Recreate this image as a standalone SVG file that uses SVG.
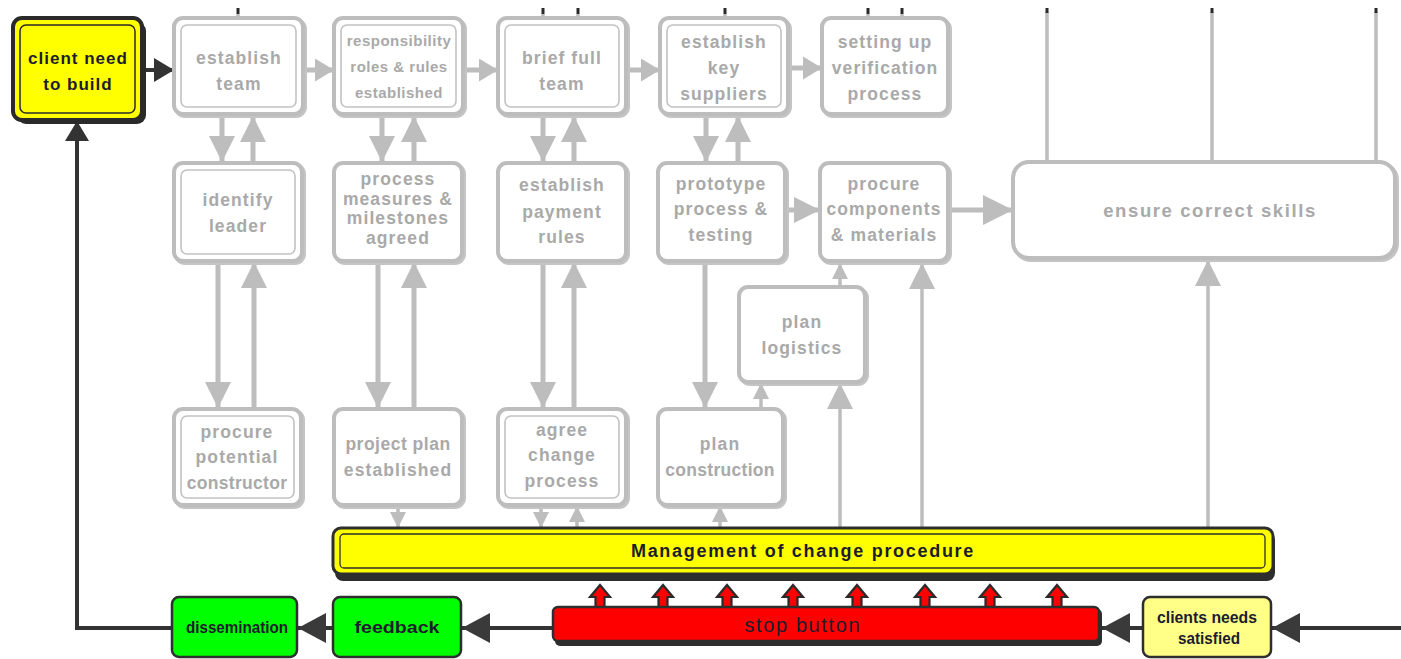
<svg xmlns="http://www.w3.org/2000/svg" width="1401" height="659" viewBox="0 0 1401 659">
  <style>
    .gbox { fill: #ffffff; stroke: #bdbdbd; stroke-width: 4; }
    .gshadow { fill: none; stroke: #c4c4c4; stroke-width: 4; }
    .ginner { fill: none; stroke: #c2c2c2; stroke-width: 1.6; }
    .gtxt { font-family: "Liberation Sans", Arial, sans-serif; font-weight: bold; font-size: 17.5px; fill: #a9a9a9; text-anchor: middle; letter-spacing: 1.1px; }
    .gtxt-s { font-size: 15px; letter-spacing: 0.5px; }
    .dtxt { font-family: "Liberation Sans", Arial, sans-serif; font-weight: bold; font-size: 17px; fill: #1c1c2e; text-anchor: middle; letter-spacing: 1px; }
    .ntxt { font-family: "Liberation Sans", Arial, sans-serif; font-weight: bold; font-size: 17px; fill: #1c1c2e; text-anchor: middle; }
    .gline { stroke: #bdbdbd; stroke-width: 5; fill: none; }
    .gline-t { stroke: #bdbdbd; stroke-width: 3.5; fill: none; }
    .dline { stroke: #333333; stroke-width: 4; fill: none; }
    .stub { stroke: #2a2a2a; stroke-width: 3; }
  </style>
  <defs>
    <marker id="gh" markerUnits="userSpaceOnUse" markerWidth="26" markerHeight="26" viewBox="0 0 26 26" refX="26" refY="13" orient="auto">
      <path d="M0,0 L26,13 L0,26 z" fill="#bdbdbd"/>
    </marker>
    <marker id="ghm" markerUnits="userSpaceOnUse" markerWidth="19" markerHeight="23" viewBox="0 0 19 23" refX="19" refY="11.5" orient="auto">
      <path d="M0,0 L19,11.5 L0,23 z" fill="#bdbdbd"/>
    </marker>
    <marker id="ghs" markerUnits="userSpaceOnUse" markerWidth="16" markerHeight="16" viewBox="0 0 16 16" refX="16" refY="8" orient="auto">
      <path d="M0,0 L16,8 L0,16 z" fill="#bdbdbd"/>
    </marker>
    <marker id="ghl" markerUnits="userSpaceOnUse" markerWidth="30" markerHeight="30" viewBox="0 0 30 30" refX="30" refY="15" orient="auto">
      <path d="M0,0 L30,15 L0,30 z" fill="#bdbdbd"/>
    </marker>
    <marker id="dh" markerUnits="userSpaceOnUse" markerWidth="28" markerHeight="30" viewBox="0 0 28 30" refX="28" refY="15" orient="auto">
      <path d="M0,0 L28,15 L0,30 z" fill="#3a3a3a"/>
    </marker>
    <marker id="dhs" markerUnits="userSpaceOnUse" markerWidth="20" markerHeight="24" viewBox="0 0 20 24" refX="20" refY="12" orient="auto">
      <path d="M0,0 L20,12 L0,24 z" fill="#333333"/>
    </marker>
    <!-- small red arrow pointing up, drawn around its tip at (0,0) -->
    <path id="redup" d="M0,0 L10,12 L4.5,12 L4.5,22 L-4.5,22 L-4.5,12 L-10,12 z" fill="#ff0000" stroke="#2a2a2a" stroke-width="2.2" stroke-linejoin="miter"/>
  </defs>

  <rect x="0" y="0" width="1401" height="659" fill="#ffffff"/>

  <!-- connectors -->
  <g id="connectors">
    <!-- stubs entering from above -->
    <line class="gline-t" x1="238" y1="14" x2="238" y2="18"/>
    <line class="stub" x1="238" y1="8" x2="238" y2="14"/>
    <line class="gline-t" x1="543" y1="14" x2="543" y2="18"/>
    <line class="stub" x1="543" y1="8" x2="543" y2="14"/>
    <line class="gline-t" x1="578" y1="14" x2="578" y2="18"/>
    <line class="stub" x1="578" y1="8" x2="578" y2="14"/>
    <line class="gline-t" x1="725" y1="14" x2="725" y2="18"/>
    <line class="stub" x1="725" y1="8" x2="725" y2="14"/>
    <line class="gline-t" x1="868" y1="14" x2="868" y2="18"/>
    <line class="stub" x1="868" y1="8" x2="868" y2="14"/>
    <line class="gline-t" x1="902" y1="14" x2="902" y2="18"/>
    <line class="stub" x1="902" y1="8" x2="902" y2="14"/>
    <!-- long lines into ensure correct skills -->
    <line class="gline-t" x1="1047" y1="12" x2="1047" y2="162"/>
    <line class="stub" x1="1047" y1="8" x2="1047" y2="13"/>
    <line class="gline-t" x1="1212" y1="12" x2="1212" y2="162"/>
    <line class="stub" x1="1212" y1="8" x2="1212" y2="13"/>
    <line class="gline-t" x1="1376" y1="12" x2="1376" y2="162"/>
    <line class="stub" x1="1376" y1="8" x2="1376" y2="13"/>

    <!-- top row, left to right -->
    <line class="dline" x1="142" y1="70" x2="174" y2="70" marker-end="url(#dhs)"/>
    <line class="gline" x1="305" y1="70" x2="334" y2="70" marker-end="url(#ghm)"/>
    <line class="gline" x1="465" y1="70" x2="498" y2="70" marker-end="url(#ghm)"/>
    <line class="gline" x1="628" y1="70" x2="660" y2="70" marker-end="url(#ghm)"/>
    <line class="gline" x1="790" y1="68" x2="822" y2="68" marker-end="url(#ghm)"/>

    <!-- row 1 to row 2 pairs -->
    <line class="gline" x1="222" y1="116" x2="222" y2="162" marker-end="url(#gh)"/>
    <line class="gline" x1="253" y1="162" x2="253" y2="116" marker-end="url(#gh)"/>
    <line class="gline" x1="382" y1="116" x2="382" y2="162" marker-end="url(#gh)"/>
    <line class="gline" x1="414" y1="162" x2="414" y2="116" marker-end="url(#gh)"/>
    <line class="gline" x1="543" y1="116" x2="543" y2="162" marker-end="url(#gh)"/>
    <line class="gline" x1="574" y1="162" x2="574" y2="116" marker-end="url(#gh)"/>
    <line class="gline" x1="706" y1="116" x2="706" y2="162" marker-end="url(#gh)"/>
    <line class="gline" x1="738" y1="162" x2="738" y2="116" marker-end="url(#gh)"/>

    <!-- row 2 to row 3 pairs -->
    <line class="gline" x1="218" y1="262" x2="218" y2="408" marker-end="url(#gh)"/>
    <line class="gline" x1="254" y1="408" x2="254" y2="262" marker-end="url(#gh)"/>
    <line class="gline" x1="378" y1="262" x2="378" y2="408" marker-end="url(#gh)"/>
    <line class="gline" x1="414" y1="408" x2="414" y2="262" marker-end="url(#gh)"/>
    <line class="gline" x1="543" y1="262" x2="543" y2="408" marker-end="url(#gh)"/>
    <line class="gline" x1="574" y1="408" x2="574" y2="262" marker-end="url(#gh)"/>
    <line class="gline" x1="705" y1="262" x2="705" y2="408" marker-end="url(#gh)"/>

    <!-- middle row horizontals -->
    <line class="gline" x1="786" y1="210" x2="820" y2="210" marker-end="url(#gh)"/>
    <line class="gline" x1="949" y1="210" x2="1013" y2="210" marker-end="url(#ghl)"/>

    <!-- plan construction / plan logistics / procure components -->
    <line class="gline-t" x1="761" y1="409" x2="761" y2="383" marker-end="url(#ghs)"/>
    <line class="gline-t" x1="840" y1="287" x2="840" y2="263" marker-end="url(#ghs)"/>
    <line class="gline-t" x1="840" y1="528" x2="840" y2="383" marker-end="url(#gh)"/>
    <line class="gline-t" x1="922" y1="528" x2="922" y2="263" marker-end="url(#gh)"/>
    <line class="gline-t" x1="1208" y1="528" x2="1208" y2="260" marker-end="url(#gh)"/>
    <line class="gline-t" x1="720" y1="528" x2="720" y2="506" marker-end="url(#ghs)"/>

    <!-- bottom row into management bar -->
    <line class="gline-t" x1="398" y1="506" x2="398" y2="528" marker-end="url(#ghs)"/>
    <line class="gline-t" x1="541" y1="506" x2="541" y2="528" marker-end="url(#ghs)"/>
    <line class="gline-t" x1="577" y1="528" x2="577" y2="506" marker-end="url(#ghs)"/>

    <!-- feedback loop along the bottom -->
    <line class="dline" x1="1401" y1="628" x2="1272" y2="628" marker-end="url(#dh)"/>
    <line class="dline" x1="1143" y1="628" x2="1102" y2="628" marker-end="url(#dh)"/>
    <line class="dline" x1="553" y1="628" x2="462" y2="628" marker-end="url(#dh)"/>
    <line class="dline" x1="333" y1="628" x2="298" y2="628" marker-end="url(#dh)"/>
    <polyline class="dline" points="172,628 77,628 77,121" marker-end="url(#dhs)"/>

    <!-- stop button pushes into management bar -->
    <use href="#redup" x="600" y="585"/>
    <use href="#redup" x="663" y="585"/>
    <use href="#redup" x="727" y="585"/>
    <use href="#redup" x="793" y="585"/>
    <use href="#redup" x="857" y="585"/>
    <use href="#redup" x="925" y="585"/>
    <use href="#redup" x="990" y="585"/>
    <use href="#redup" x="1057" y="585"/>
  </g>

  <!-- client need to build -->
  <g id="n-client">
    <rect x="17" y="22" width="129" height="102" rx="9" fill="#2a2a2a"/>
    <rect x="13" y="18" width="129" height="102" rx="9" fill="#ffff00" stroke="#2a2a2a" stroke-width="4"/>
    <rect x="20" y="25" width="115" height="88" rx="6" fill="none" stroke="#2a2a2a" stroke-width="1.5"/>
    <text class="dtxt" x="78" y="64">client need</text>
    <text class="dtxt" x="78" y="90">to build</text>
  </g>

  <!-- top row -->
  <g id="n-establish-team">
    <rect class="gshadow" x="176" y="20" width="129" height="96" rx="9"/>
    <rect class="gbox" x="174" y="18" width="129" height="96" rx="9"/>
    <rect class="ginner" x="181" y="25" width="115" height="82" rx="6"/>
    <text class="gtxt" x="239" y="64">establish</text>
    <text class="gtxt" x="239" y="90">team</text>
  </g>
  <g id="n-responsibility">
    <rect class="gshadow" x="336" y="20" width="129" height="96" rx="9"/>
    <rect class="gbox" x="334" y="18" width="129" height="96" rx="9"/>
    <rect class="ginner" x="341" y="25" width="115" height="82" rx="6"/>
    <text class="gtxt gtxt-s" x="399" y="46">responsibility</text>
    <text class="gtxt gtxt-s" x="399" y="72">roles &amp; rules</text>
    <text class="gtxt gtxt-s" x="399" y="98">established</text>
  </g>
  <g id="n-brief-team">
    <rect class="gshadow" x="500" y="20" width="128" height="96" rx="9"/>
    <rect class="gbox" x="498" y="18" width="128" height="96" rx="9"/>
    <rect class="ginner" x="505" y="25" width="114" height="82" rx="6"/>
    <text class="gtxt" x="562" y="64">brief full</text>
    <text class="gtxt" x="562" y="90">team</text>
  </g>
  <g id="n-key-suppliers">
    <rect class="gshadow" x="662" y="20" width="128" height="96" rx="9"/>
    <rect class="gbox" x="660" y="18" width="128" height="96" rx="9"/>
    <rect class="ginner" x="667" y="25" width="114" height="82" rx="6"/>
    <text class="gtxt" x="724" y="48">establish</text>
    <text class="gtxt" x="724" y="74">key</text>
    <text class="gtxt" x="724" y="100">suppliers</text>
  </g>
  <g id="n-verification">
    <rect class="gshadow" x="824" y="20" width="126" height="96" rx="9"/>
    <rect class="gbox" x="822" y="18" width="126" height="96" rx="9"/>
    <text class="gtxt" x="885" y="48">setting up</text>
    <text class="gtxt" x="885" y="74">verification</text>
    <text class="gtxt" x="885" y="100">process</text>
  </g>

  <!-- middle row -->
  <g id="n-identify-leader">
    <rect class="gshadow" x="176" y="165" width="128" height="98" rx="9"/>
    <rect class="gbox" x="174" y="163" width="128" height="98" rx="9"/>
    <rect class="ginner" x="181" y="170" width="114" height="84" rx="6"/>
    <text class="gtxt" x="238" y="206">identify</text>
    <text class="gtxt" x="238" y="232">leader</text>
  </g>
  <g id="n-measures">
    <rect class="gshadow" x="336" y="165" width="128" height="98" rx="9"/>
    <rect class="gbox" x="334" y="163" width="128" height="98" rx="9"/>
    <text class="gtxt" x="398" y="185">process</text>
    <text class="gtxt" x="398" y="205">measures &amp;</text>
    <text class="gtxt" x="398" y="224">milestones</text>
    <text class="gtxt" x="398" y="244">agreed</text>
  </g>
  <g id="n-payment">
    <rect class="gshadow" x="500" y="165" width="128" height="98" rx="9"/>
    <rect class="gbox" x="498" y="163" width="128" height="98" rx="9"/>
    <text class="gtxt" x="562" y="191">establish</text>
    <text class="gtxt" x="562" y="218">payment</text>
    <text class="gtxt" x="562" y="243">rules</text>
  </g>
  <g id="n-prototype">
    <rect class="gshadow" x="660" y="165" width="127" height="98" rx="9"/>
    <rect class="gbox" x="658" y="163" width="127" height="98" rx="9"/>
    <text class="gtxt" x="721" y="190">prototype</text>
    <text class="gtxt" x="721" y="215">process &amp;</text>
    <text class="gtxt" x="721" y="241">testing</text>
  </g>
  <g id="n-components">
    <rect class="gshadow" x="822" y="165" width="128" height="98" rx="9"/>
    <rect class="gbox" x="820" y="163" width="128" height="98" rx="9"/>
    <text class="gtxt" x="884" y="190">procure</text>
    <text class="gtxt" x="884" y="215">components</text>
    <text class="gtxt" x="884" y="241">&amp; materials</text>
  </g>
  <g id="n-skills">
    <rect class="gshadow" x="1015" y="164" width="382" height="96" rx="16"/>
    <rect class="gbox" x="1013" y="162" width="382" height="96" rx="16"/>
    <text class="gtxt" x="1210" y="217" style="font-size:18.5px;letter-spacing:1.6px">ensure correct skills</text>
  </g>
  <g id="n-logistics">
    <rect class="gshadow" x="741" y="289" width="126" height="95" rx="9"/>
    <rect class="gbox" x="739" y="287" width="126" height="95" rx="9"/>
    <text class="gtxt" x="802" y="328">plan</text>
    <text class="gtxt" x="802" y="354">logistics</text>
  </g>

  <!-- lower row -->
  <g id="n-constructor">
    <rect class="gshadow" x="176" y="411" width="127" height="96" rx="9"/>
    <rect class="gbox" x="174" y="409" width="127" height="96" rx="9"/>
    <rect class="ginner" x="181" y="416" width="113" height="82" rx="6"/>
    <text class="gtxt" x="237" y="438">procure</text>
    <text class="gtxt" x="237" y="463">potential</text>
    <text class="gtxt" x="237" y="489" style="letter-spacing:0.3px">constructor</text>
  </g>
  <g id="n-project-plan">
    <rect class="gshadow" x="336" y="411" width="128" height="96" rx="9"/>
    <rect class="gbox" x="334" y="409" width="128" height="96" rx="9"/>
    <text class="gtxt" x="398" y="450" style="letter-spacing:0.5px">project plan</text>
    <text class="gtxt" x="398" y="476">established</text>
  </g>
  <g id="n-agree-change">
    <rect class="gshadow" x="500" y="411" width="128" height="96" rx="9"/>
    <rect class="gbox" x="498" y="409" width="128" height="96" rx="9"/>
    <rect class="ginner" x="505" y="416" width="114" height="82" rx="6"/>
    <text class="gtxt" x="562" y="436">agree</text>
    <text class="gtxt" x="562" y="461">change</text>
    <text class="gtxt" x="562" y="487">process</text>
  </g>
  <g id="n-plan-construction">
    <rect class="gshadow" x="660" y="411" width="125" height="96" rx="9"/>
    <rect class="gbox" x="658" y="409" width="125" height="96" rx="9"/>
    <text class="gtxt" x="720" y="450">plan</text>
    <text class="gtxt" x="720" y="476" style="letter-spacing:0.3px">construction</text>
  </g>

  <!-- management of change -->
  <g id="n-management">
    <rect x="335" y="532" width="940" height="49" rx="8" fill="#2e2e2e"/>
    <rect x="333" y="528" width="940" height="46" rx="8" fill="#ffff00" stroke="#2e2e2e" stroke-width="3"/>
    <rect x="340" y="534" width="925" height="34" rx="4" fill="none" stroke="#2e2e2e" stroke-width="1.3"/>
    <text class="dtxt" x="803" y="557" style="font-size:18px;letter-spacing:1.7px">Management of change procedure</text>
  </g>

  <!-- stop button -->
  <g id="n-stop">
    <rect x="555" y="609" width="547" height="37" rx="5" fill="#2e2e2e"/>
    <rect x="553" y="607" width="546" height="34" rx="5" fill="#ff0000" stroke="#2e2e2e" stroke-width="2.5"/>
    <text class="ntxt" x="802" y="632" style="font-size:20px;font-weight:normal" textLength="115" lengthAdjust="spacing">stop button</text>
  </g>

  <!-- clients needs satisfied -->
  <g id="n-satisfied">
    <rect x="1143" y="597" width="128" height="60" rx="7" fill="#ffff88" stroke="#2e2e2e" stroke-width="2.5"/>
    <text class="ntxt" x="1207" y="623" textLength="100" lengthAdjust="spacingAndGlyphs">clients needs</text>
    <text class="ntxt" x="1209" y="644" textLength="62" lengthAdjust="spacingAndGlyphs">satisfied</text>
  </g>

  <!-- feedback -->
  <g id="n-feedback">
    <rect x="333" y="597" width="128" height="60" rx="7" fill="#00ff00" stroke="#2e2e2e" stroke-width="2.5"/>
    <text class="ntxt" x="397" y="633" textLength="85" lengthAdjust="spacingAndGlyphs">feedback</text>
  </g>

  <!-- dissemination -->
  <g id="n-dissemination">
    <rect x="172" y="597" width="125" height="60" rx="7" fill="#00ff00" stroke="#2e2e2e" stroke-width="2.5"/>
    <text class="ntxt" x="237" y="633" textLength="102" lengthAdjust="spacingAndGlyphs">dissemination</text>
  </g>
</svg>
